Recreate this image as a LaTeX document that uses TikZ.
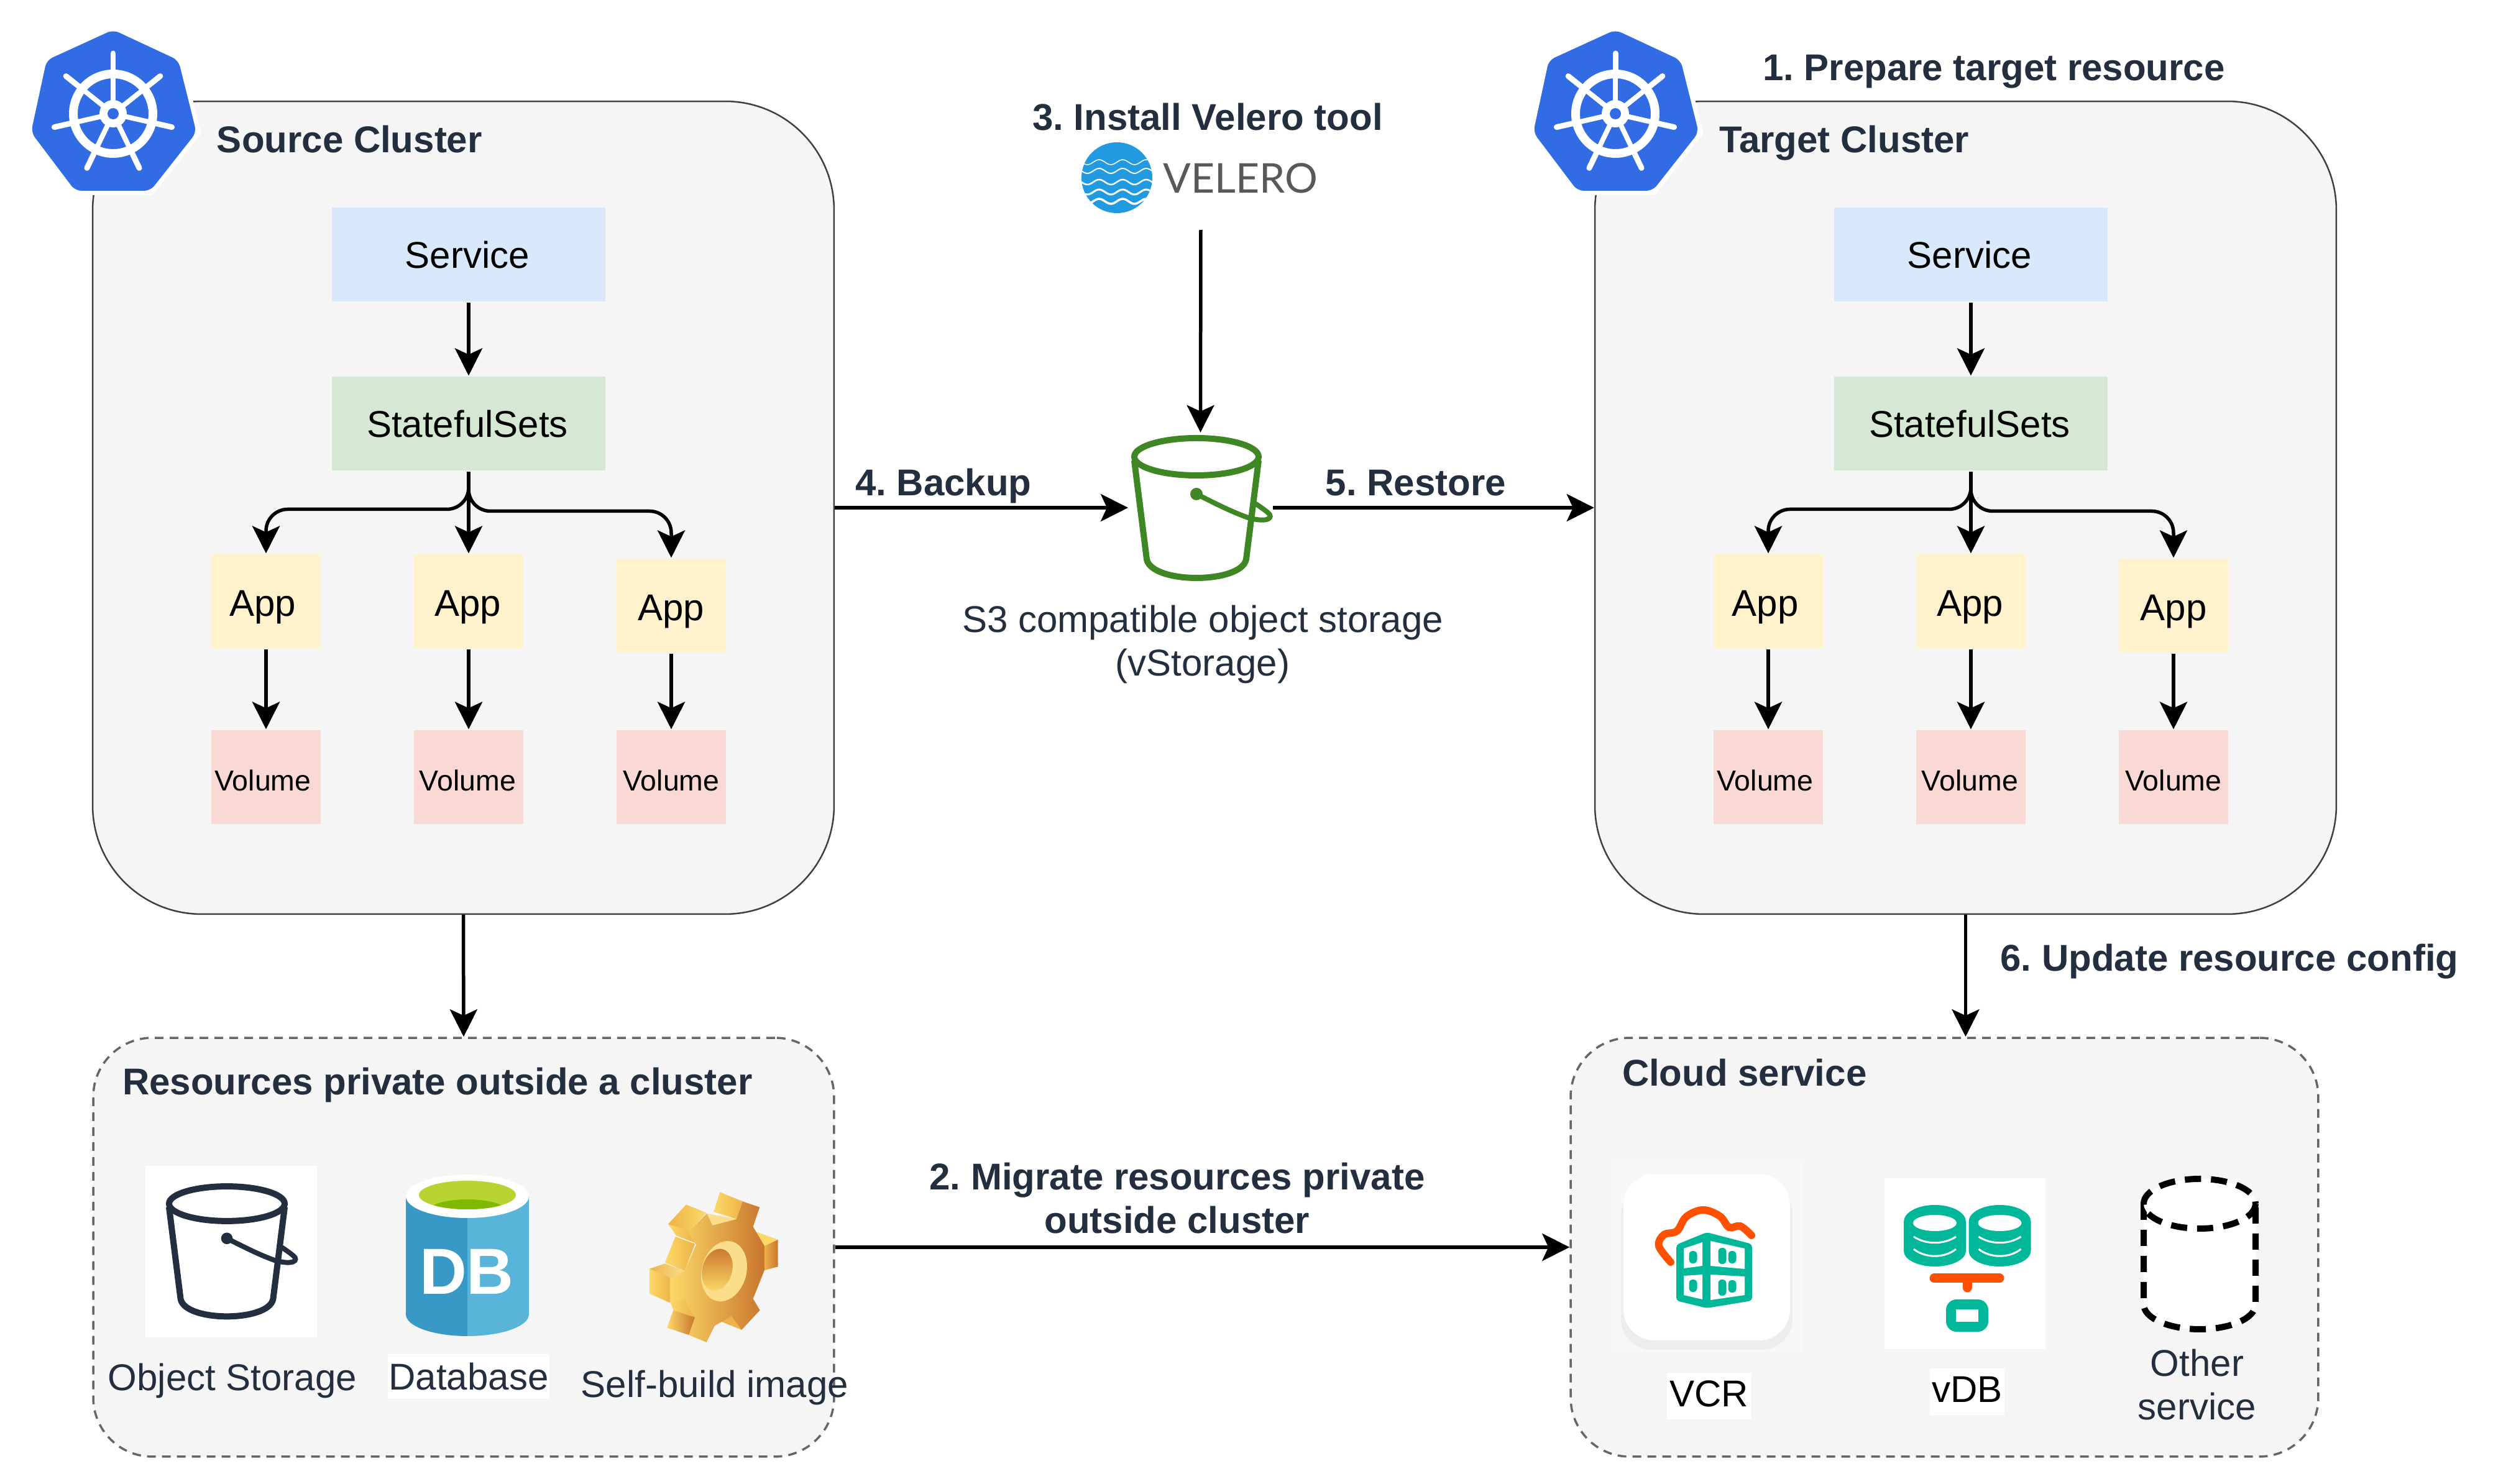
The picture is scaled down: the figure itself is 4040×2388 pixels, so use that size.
\documentclass[tikz,border=0pt]{standalone}
\usepackage{fontspec}
\setmainfont{Liberation Sans}
\newfontfamily\velfont{Lato}
\usetikzlibrary{arrows.meta}

\definecolor{inkdark}{HTML}{232F3E}
\definecolor{k8sblue}{HTML}{326CE5}
\definecolor{velblue}{HTML}{229ADF}
\definecolor{bktgreen}{HTML}{3F8624}
\definecolor{teal}{HTML}{00B899}
\definecolor{hotorange}{HTML}{FF5000}
\definecolor{svcfill}{HTML}{DAE8FC}
\definecolor{stsfill}{HTML}{D5E8D4}
\definecolor{appfill}{HTML}{FFF2CC}
\definecolor{volfill}{HTML}{FAD9D5}
\definecolor{dbdark}{HTML}{3999C6}
\definecolor{dblight}{HTML}{59B4D9}
\definecolor{dbrim}{HTML}{B8D432}
\definecolor{dbpool}{HTML}{7FBA00}
\definecolor{goldpale}{HTML}{FBDE8B}
\definecolor{goldlite}{HTML}{FCD967}
\definecolor{goldmid}{HTML}{EDB349}
\definecolor{goldrust}{HTML}{C9762D}

\tikzset{
    arr/.style={draw=black, line width=0.55pt, -{Stealth[length=4.4pt,width=4.4pt,inset=1pt]}},
    cluster/.style={draw=black!75, line width=0.25pt, fill=black!4, rounded corners=17.5pt, minimum width=119.3pt, minimum height=130.8pt},
    dashbox/.style={draw=black!60, line width=0.35pt, dash pattern=on 1.4pt off 1pt, fill=black!4, rounded corners=9.5pt, minimum height=67.4pt},
    svcbox/.style={fill=#1, minimum width=44pt, minimum height=15.1pt},
    appbox/.style={fill=#1, minimum width=17.6pt, minimum height=15.1pt},
    volbox/.style={appbox=#1, font=\fontsize{4.65}{6}\selectfont},
    head/.style={font=\fontsize{6}{7}\bfseries\selectfont, text=inkdark},
    note/.style={text=inkdark},
    tag/.style={fill=white, text depth=1pt},
    pics/bucket/.style={code={
        \draw[#1, line width=1pt] (0,0) ellipse (100 and 30);
        \draw[#1, line width=1pt, line join=round] (-100,6) -- (-80,165) .. controls (-72,205) and (72,205) .. (80,165) -- (100,6);
        \fill[#1] (0,60) circle (10);
        \draw[#1, line width=0.8pt, line cap=round] (0,60) .. controls (30,75) and (55,88) .. (83,98) .. controls (115,107) and (125,98) .. (115,90) .. controls (108,84) and (100,79) .. (96,76);
    }},
    pics/k8slogo/.style={code={
        \draw[white, line width=1.4pt, line join=round] (0,-135) -- (105,-86) -- (134,30) -- (60,124) -- (-61,124) -- (-132,30) -- (-107,-86) -- cycle;
        \fill[k8sblue, rounded corners=1pt] (0,-135) -- (105,-86) -- (134,30) -- (60,124) -- (-61,124) -- (-132,30) -- (-107,-86) -- cycle;
        \draw[white, line width=1.4pt] (0,0) circle (64);
        \foreach \i in {0,...,6} {
            \draw[white, line width=0.8pt] (-90+360*\i/7:12) -- (-90+360*\i/7:70);
            \draw[white, line width=0.9pt, line cap=round] (-90+360*\i/7:68) -- (-90+360*\i/7:97);
        }
        \fill[white] (0,0) circle (22);
        \fill[k8sblue] (0,0) circle (9);
    }}
}

\begin{document}
\frenchspacing
\begin{tikzpicture}[x=0.1pt, y=-0.1pt, every node/.style={inner sep=0pt, text height=4.4pt, text depth=0pt, font=\fontsize{6}{7}\selectfont}]
\useasboundingbox (0,0) rectangle (4040,2388);

\foreach \dx/\nm/\ttl in {0/src/Source Cluster, 2417/tgt/Target Cluster} {
    \node[cluster] (\nm) at (745.5+\dx,817) {};
    \pic at (182+\dx,183) {k8slogo};
    \node[head, anchor=west] (\nm title) at (347+\dx,224) {\ttl};
    \node[svcbox=svcfill] (svc\nm) at (754+\dx,410) {Service\kern0.4pt};
    \node[svcbox=stsfill] (sts\nm) at (754+\dx,682) {StatefulSets\kern0.4pt};
    \foreach \i/\ax/\ay/\nudge in {1/428/968/1pt, 2/754/968/0.3pt, 3/1080/975/0pt} {
        \node[appbox=appfill, text height=4.8pt] (app\i\nm) at (\ax+\dx,\ay) {App\kern\nudge};
        \node[volbox=volfill] (vol\i\nm) at (\ax+\dx,1251) {Volume\kern\nudge};
        \draw[arr] (app\i\nm) -- (vol\i\nm);
    }
    \draw[arr] (svc\nm) -- (sts\nm);
    \draw[arr] (sts\nm) -- (app2\nm);
    \draw[arr, rounded corners=3.5pt] (sts\nm.south) -- ++(0,60) -| (app1\nm.north);
    \draw[arr, rounded corners=3.5pt] (sts\nm.south) -- ++(0,63) -| (app3\nm.north);
}

\node[head] (prep) at (3208,108) {1. Prepare target resource};
\node[head] (inst) at (1943,188) {3. Install Velero tool};

\fill[velblue] (1797,286) circle (57);
\begin{scope}
    \clip (1797,286) circle (57);
    \foreach \wy/\ww in {261/0.15, 275/0.2, 293/0.25, 309/0.3, 324/0.35} {
        \draw[white, line width=\ww pt] plot[domain=1740:1854, samples=50] (\x, {\wy+4*sin(9.5*(\x-1740))});
    }
\end{scope}
\node[text=black!65, text height=4.75pt, font=\fontsize{6.6}{7}\velfont] (velname) at (1996,287) {VELERO};
\coordinate (velbot) at (1932,370);

\node[minimum width=22.9pt, minimum height=23.8pt] (bkt) at (1931.5,817) {};
\pic at (1925,735) {bucket=bktgreen};
\node[note, align=center] (bktlabel) at (1935,1066) {S3 compatible object storage\\(vStorage)};

\draw[arr] (velbot) -- (bkt.north);
\draw[arr] (src.east) -- (bkt.west);
\draw[arr] (bkt.east) -- (tgt.west);
\node[head] (backup) at (1518,776) {4. Backup};
\node[head] (restore) at (2278,776) {5. Restore};

\node[dashbox, minimum width=119.2pt] (res) at (746,2007) {};
\node[dashbox, minimum width=120.3pt] (cld) at (3128.5,2007) {};
\node[head, anchor=west] (restitle) at (195,1740) {Resources private outside a cluster};
\node[head, anchor=west] (cldtitle) at (2608,1726) {Cloud service};

\draw[arr] (src.south) -- (res.north);
\draw[arr] (tgt.south) -- (tgt.south |- cld.north);
\draw[arr] (res.east) -- (cld.west);
\node[head] (update) at (3587,1541) {6. Update resource config};
\node[head, align=center] (migrate) at (1894,1963) {2. Migrate resources private\\outside cluster};

\fill[white] (234,1876) rectangle (510,2152);
\pic[scale=0.93] at (365,1937) {bucket=inkdark};
\node[note] (objlabel) at (374,2216) {Object Storage};

\fill[dbdark] (653,1925) -- (653,2115) arc (180:90:99 and 35) -- (752,1925) -- cycle;
\fill[dblight] (752,1925) -- (752,2150) arc (90:0:99 and 35) -- (851,1925) -- cycle;
\fill[white] (752,1925) ellipse (99 and 35);
\fill[dbrim] (752,1923) ellipse (78 and 23);
\begin{scope}
    \clip (752,1923) ellipse (78 and 23);
    \fill[dbpool] (752,1948) ellipse (62 and 18);
\end{scope}
\node[text=white, text height=7.5pt, font=\fontsize{10.5}{11}\bfseries\selectfont] (dbmark) at (751,2045) {DB};
\node[fill=white, minimum width=26pt, minimum height=7.2pt, text=inkdark] (dblabel) at (754,2215) {Database};

\begin{scope}[shift={(1030,1900)}, x=0.03333pt, y=-0.03333pt]
    \shade[left color=goldlite, right color=goldmid] (385,55) -- (495,100) -- (465,185) -- (355,150) -- cycle;
    \shade[left color=goldmid, right color=goldlite] (135,210) -- (222,115) -- (320,155) -- (235,245) -- cycle;
    \shade[left color=goldlite, right color=goldmid] (135,210) -- (235,245) -- (265,300) -- (175,265) -- cycle;
    \shade[left color=goldlite, right color=goldmid] (120,395) -- (170,270) -- (265,305) -- (215,435) -- cycle;
    \shade[left color=goldmid, right color=goldpale] (45,425) -- (120,400) -- (215,435) -- (145,470) -- cycle;
    \shade[left color=goldlite, right color=goldmid] (45,425) -- (145,470) -- (145,590) -- (45,545) -- cycle;
    \shade[left color=goldlite, right color=goldmid] (145,585) -- (215,570) -- (265,660) -- (160,625) -- cycle;
    \shade[left color=goldlite, right color=goldrust] (130,710) -- (160,625) -- (265,660) -- (235,745) -- cycle;
    \fill[goldlite] (555,245) -- (665,285) -- (600,315) -- cycle;
    \shade[left color=goldmid, right color=goldrust] (600,315) -- (665,285) -- (665,415) -- (600,432) -- cycle;
    \fill[goldmid] (390,680) -- (440,655) -- (490,720) -- cycle;
    \shade[left color=goldlite, right color=goldrust] (322,158) -- (350,215) -- (465,185) -- (495,100) -- (577,128) -- (545,222) -- (600,315) -- (600,432) -- (545,570) -- (578,625) -- (490,720) -- (440,655) -- (360,700) -- (320,780) -- (235,745) -- (265,660) -- (215,570) -- (145,585) -- (145,470) -- (215,435) -- (270,310) -- (235,245) -- cycle;
    \fill[goldpale] (322,158) -- (465,185) -- (350,215) -- cycle;
    \fill[goldpale, rotate around={-15:(405,437)}] (405,437) ellipse (108 and 148);
    \shade[top color=goldrust, bottom color=goldlite, rotate around={-15:(372,430)}] (372,430) ellipse (72 and 103);
\end{scope}
\node[note] (gearlabel) at (1150,2227) {Self-build image};

\fill[black!3] (2591,1866) rectangle (2901,2177);
\fill[black!7, rounded corners=5pt] (2608,1905) rectangle (2884,2172);
\fill[white, rounded corners=5pt] (2612,1889) rectangle (2880,2157);
\draw[hotorange, line width=1.2pt, line cap=round] plot[smooth, tension=0.6] coordinates {(2688,2031) (2669,2005) (2677,1987) (2698,1981) (2713,1958) (2740,1947) (2767,1957) (2782,1975) (2800,1973) (2818,1988)};
\fill[teal, rounded corners=0.5pt] (2697,2003) -- (2746,1983) -- (2819,2002) -- (2819,2093) -- (2746,2105) -- (2697,2093) -- cycle;
\fill[white] (2709,2009) -- (2739,1999) -- (2739,2037) -- (2709,2041) -- cycle;
\fill[white] (2752,1997) -- (2807,2009) -- (2807,2042) -- (2752,2037) -- cycle;
\fill[white] (2709,2053) -- (2739,2051) -- (2739,2091) -- (2709,2084) -- cycle;
\fill[white] (2752,2051) -- (2807,2054) -- (2807,2084) -- (2752,2092) -- cycle;
\foreach \wx/\wy/\wh in {2724/2023/10, 2771/2021/13, 2787/2023/10, 2724/2069/10, 2771/2072/13, 2787/2070/10} {
    \fill[teal, rounded corners=0.6pt] (\wx-6.5,\wy-\wh) rectangle (\wx+6.5,\wy+\wh);
}
\node[tag, minimum width=13.6pt, minimum height=7.5pt] (vcrlabel) at (2750,2247) {VCR};

\fill[white] (3032,1896) rectangle (3291,2171);
\foreach \cx in {3113,3217.5} {
    \fill[teal] (\cx-50,1966) arc (180:360:50 and 27) -- (\cx+50,2013) arc (0:180:50 and 25) -- cycle;
    \fill[white] (\cx,1968) ellipse (35 and 13);
    \draw[white, line width=0.3pt] (\cx-34,1990) .. controls (\cx-15,2003) and (\cx+15,2003) .. (\cx+34,1990);
    \draw[white, line width=0.3pt] (\cx-34,2010) .. controls (\cx-15,2025) and (\cx+15,2025) .. (\cx+34,2010);
}
\draw[hotorange, line width=1.5pt, line cap=round] (3112,2057) -- (3217,2057);
\draw[hotorange, line width=1.5pt, line cap=round] (3165,2057) -- (3165,2072);
\fill[teal, rounded corners=1.7pt] (3131,2091) rectangle (3199,2143);
\fill[white] (3147,2107) rectangle (3183,2127);
\node[tag, minimum width=12.1pt, minimum height=7.5pt] (vdblabel) at (3165,2240) {vDB};

\draw[black, line width=1pt, fill=white, dash pattern=on 2.6pt off 1.6pt] (3449,1937) -- (3449,2099) arc (180:90:90 and 40) arc (90:0:90 and 40) -- (3629,1937);
\draw[black, line width=1pt, fill=white, dash pattern=on 2.6pt off 1.6pt] (3539,1937) ellipse (90 and 40);
\node[note, align=center] (otherlabel) at (3535,2263) {Other\\service};
\end{tikzpicture}
\end{document}
